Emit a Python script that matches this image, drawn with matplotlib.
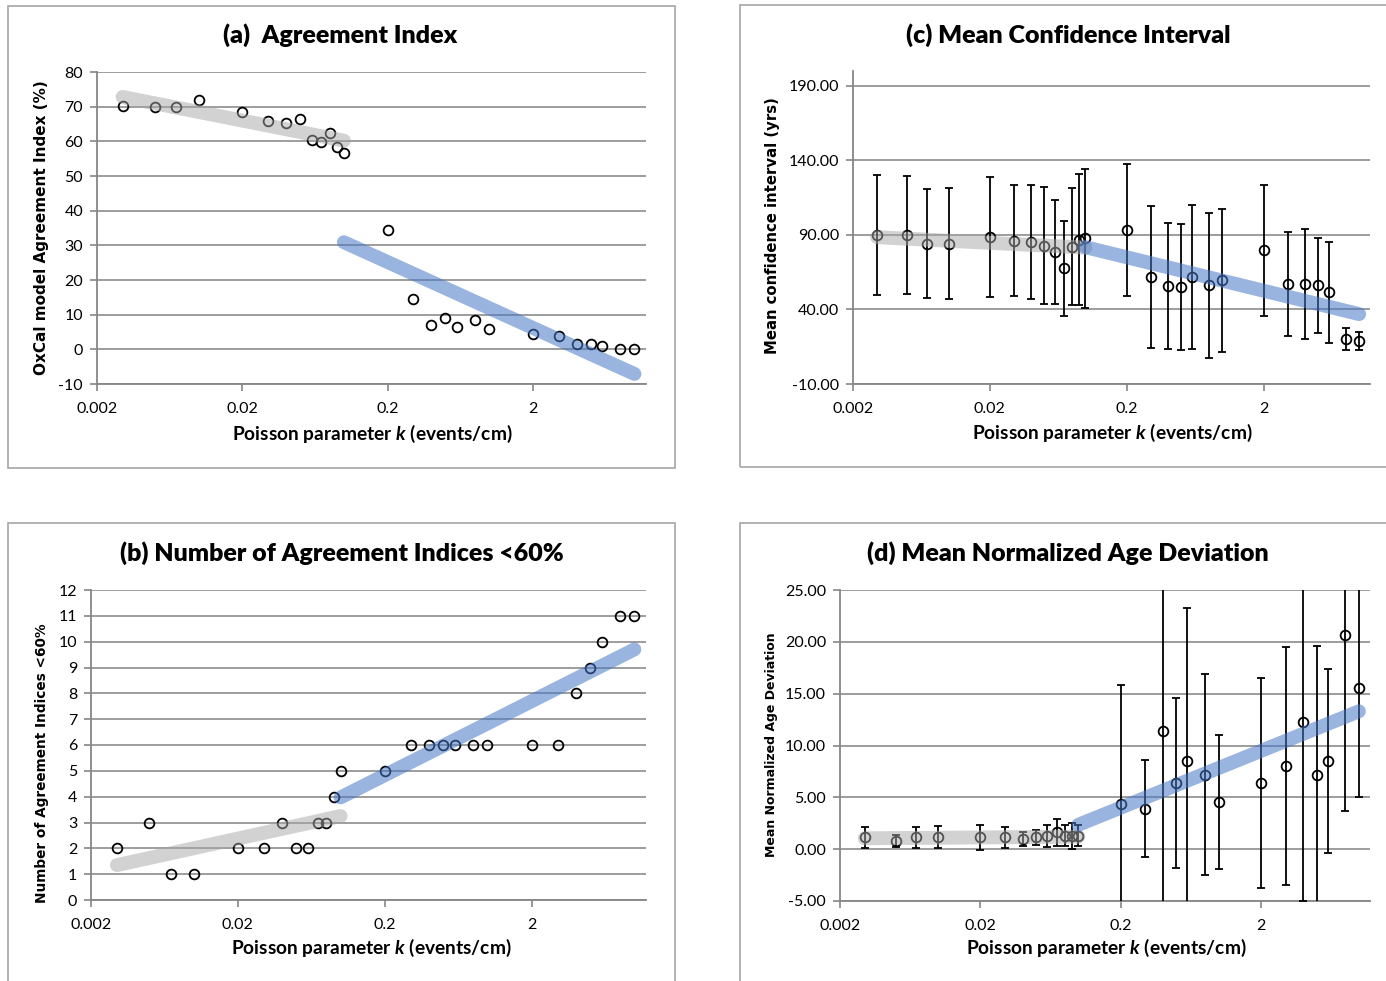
import numpy as np
import matplotlib
matplotlib.use('Agg')
import matplotlib.pyplot as plt
from matplotlib.patches import Rectangle
from matplotlib.ticker import FixedLocator, FixedFormatter, NullLocator

plt.rcParams['font.family'] = ['Lato', 'DejaVu Sans']
plt.rcParams['mathtext.fontset'] = 'custom'
plt.rcParams['mathtext.rm'] = 'Lato:bold'
plt.rcParams['mathtext.it'] = 'Lato:italic:bold'

# Poisson parameter k (events/cm), same for all four panels
k = [0.003, 0.005, 0.007, 0.01, 0.02, 0.03, 0.04, 0.05, 0.06, 0.07, 0.08, 0.09, 0.1,
     0.2, 0.3, 0.4, 0.5, 0.6, 0.8, 1, 2, 3, 4, 5, 6, 8, 10]

# (a) agreement index (%)
agree = [70.2, 69.8, 69.8, 71.8, 68.4, 65.9, 65.4, 66.3, 60.4, 59.9, 62.4, 58.5, 56.5,
         34.5, 14.4, 7.0, 8.9, 6.4, 8.4, 5.9, 4.5, 3.9, 1.5, 1.4, 1.0, 0.1, 0.1]
# (b) number of agreement indices < 60%
n_low = [2, 3, 1, 1, 2, 2, 3, 2, 2, 3, 3, 4, 5,
         5, 6, 6, 6, 6, 6, 6, 6, 6, 8, 9, 10, 11, 11]
# (c) mean confidence interval (yrs) and error
ci_mean = [90, 89.8, 84.2, 84.2, 88.7, 86.2, 85.3, 82.9, 78.4, 67.6, 82, 86.9, 87.8,
           93.3, 61.8, 56, 55.1, 61.8, 56.2, 59.6, 79.8, 57.1, 57.1, 56.2, 51.6, 20, 18.9]
ci_err = [40, 39.5, 36.5, 37, 40.5, 37, 38, 39, 35, 32, 39.3, 44, 46.7,
          44, 47.5, 42.3, 42.3, 48.5, 48.5, 48, 44, 35, 36.7, 32, 33.8, 7.4, 5.8]
# (d) mean normalized age deviation and error
dev_mean = [1.13, 0.8, 1.13, 1.13, 1.13, 1.13, 0.96, 1.13, 1.29, 1.64, 1.29, 1.29, 1.29,
            4.4, 3.92, 11.4, 6.37, 8.49, 7.2, 4.57, 6.37, 8.0, 12.25, 7.17, 8.49, 20.7, 15.5]
dev_err = [1.0, 0.58, 1.0, 1.06, 1.2, 1.0, 0.66, 0.74, 1.06, 1.3, 1.0, 1.28, 1.0,
           11.4, 4.7, 19, 8.2, 14.8, 9.7, 6.45, 10.1, 11.5, 17.25, 12.4, 8.9, 17.0, 10.5]

# trend lines (end points)
gray_k = [0.003, 0.1]
blue_k = [0.1, 10]
trend_a = ([72.8, 60.2], [30.9, -7.1])
trend_b = ([1.35, 3.25], [3.97, 9.7])
trend_c = ([88.5, 81.5], [81.8, 36.9])
trend_d = ([1.05, 1.2], [2.35, 13.3])

W, H = 1386, 981
fig = plt.figure(figsize=(W / 100, H / 100), dpi=100)

GRID = '#959595'
AXC = '#868686'


def px_axes(left, top, right, bottom):
    return fig.add_axes([left / W, 1 - bottom / H, (right - left) / W, (bottom - top) / H])


def frame(left, top, right, bottom):
    fig.patches.append(Rectangle((left / W, 1 - bottom / H), (right - left) / W, (bottom - top) / H,
                                 transform=fig.transFigure, fill=False, ec='#a6a6a6', lw=1.2))


def style(ax, ylim, yticks, fmt):
    ax.set_xscale('log')
    ax.set_xlim(0.002, 12)
    ax.set_ylim(*ylim)
    ax.xaxis.set_major_locator(FixedLocator([0.002, 0.02, 0.2, 2]))
    ax.xaxis.set_major_formatter(FixedFormatter(['0.002', '0.02', '0.2', '2']))
    ax.xaxis.set_minor_locator(NullLocator())
    ax.set_yticks(yticks)
    ax.set_yticklabels([fmt % v for v in yticks])
    for v in yticks:
        ax.axhline(v, color=GRID, lw=1.3, zorder=0)
    for s in ['top', 'right']:
        ax.spines[s].set_visible(False)
    for s in ['left', 'bottom']:
        ax.spines[s].set_color(AXC)
        ax.spines[s].set_linewidth(1.3)
    ax.tick_params(axis='both', length=5, width=1.2, color=AXC, labelsize=11.5, labelcolor='black')
    ax.tick_params(axis='x', pad=8)
    ax.tick_params(axis='y', pad=5)


def trends(ax, tr):
    ax.plot(gray_k, tr[0], color='#a6a6a6', alpha=0.5, lw=10, solid_capstyle='round', zorder=5)
    ax.plot(blue_k, tr[1], color='#4877c8', alpha=0.55, lw=10, solid_capstyle='round', zorder=5)


mk = dict(marker='o', ms=7, mfc='none', mec='black', mew=1.3, ls='none', zorder=3)
eb = dict(fmt='o', ms=7, mfc='none', mec='black', mew=1.3, ecolor='black',
          elinewidth=1.3, capsize=3, capthick=1.3, zorder=3)

# panel frames
frame(8, 6, 675, 468)
frame(8, 523, 675, 1000)
frame(740, 5, 1400, 467)
frame(740, 523, 1400, 1000)

# (a)
ax = px_axes(97, 72, 646, 384)
style(ax, (-10, 80), list(range(-10, 81, 10)), '%d')
ax.plot(k, agree, **mk)
trends(ax, trend_a)

# (b)
ax = px_axes(91, 590, 646, 900)
style(ax, (0, 12), list(range(0, 13)), '%d')
ax.plot(k, n_low, **mk)
trends(ax, trend_b)

# (c)
ax = px_axes(853, 71, 1370, 384)
style(ax, (-10, 200), [-10, 40, 90, 140, 190], '%.2f')
ax.errorbar(k, ci_mean, yerr=ci_err, **eb)
trends(ax, trend_c)

# (d)
ax = px_axes(840, 590, 1370, 901)
style(ax, (-5, 25), [-5, 0, 5, 10, 15, 20, 25], '%.2f')
ax.errorbar(k, dev_mean, yerr=dev_err, **eb)
trends(ax, trend_d)

# titles
titles = [('(a)  Agreement Index', 340, 35), ('(b) Number of Agreement Indices <60%', 342, 553),
          ('(c) Mean Confidence Interval', 1068, 35), ('(d) Mean Normalized Age Deviation', 1068, 553)]
for t, x, y in titles:
    fig.text(x / W, 1 - y / H, t, ha='center', va='center', fontsize=18, fontweight='heavy')

# x labels
for x, y in [(372, 434), (371, 948), (1112, 433), (1106, 948)]:
    fig.text(x / W, 1 - y / H, 'Poisson parameter $k$ (events/cm)', ha='center', va='center',
             fontsize=13.8, fontweight='bold')

# y labels
ylabs = [('OxCal model Agreement Index (%)', 42, 228, 11),
         ('Number of Agreement Indices <60%', 42, 763, 9.8),
         ('Mean confidence interval (yrs)', 773, 226, 10.7),
         ('Mean Normalized Age Deviation', 771, 745, 9.0)]
for t, x, y, fs in ylabs:
    fig.text(x / W, 1 - y / H, t, ha='center', va='center', rotation=90,
             fontsize=fs, fontweight='bold', family='DejaVu Sans')

fig.savefig('out.png', dpi=100)
